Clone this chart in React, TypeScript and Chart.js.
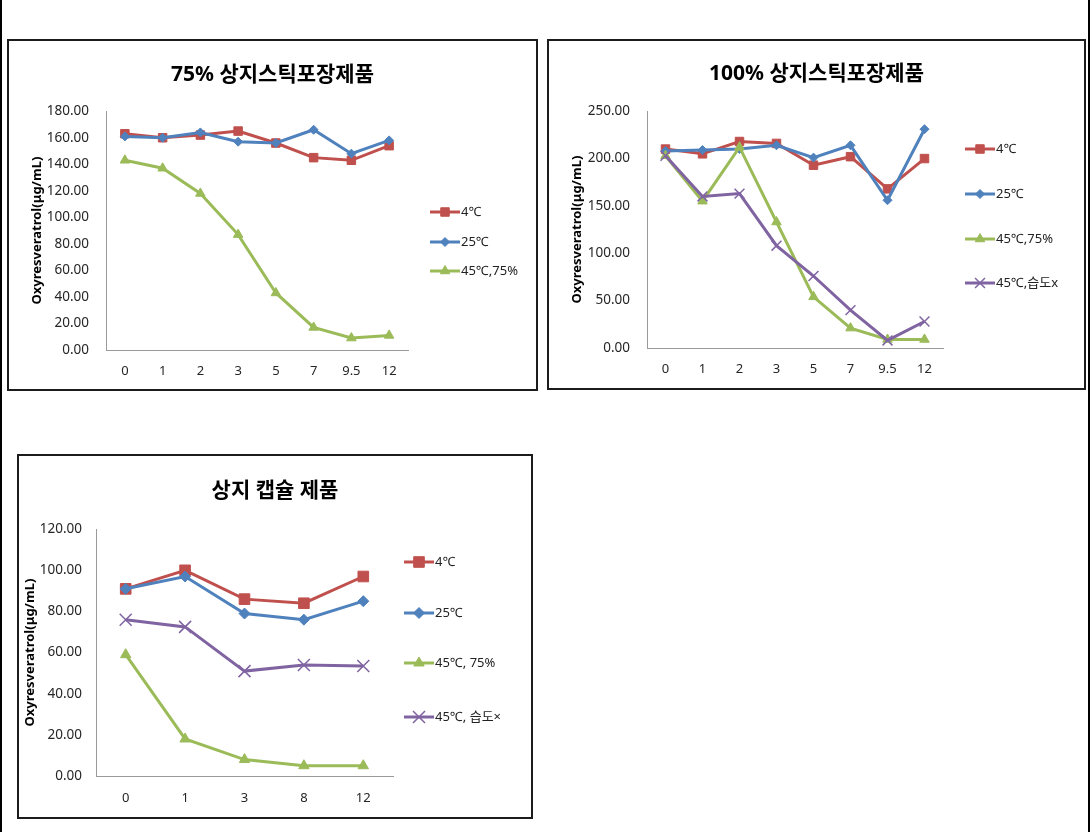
import React, { useEffect, useRef } from 'react';
import { Chart, registerables } from 'chart.js';

Chart.register(...registerables);

const FONT = "'Noto Sans', 'Noto Sans CJK KR', sans-serif";

// ---------- data ----------
const yAxisTitle = 'Oxyresveratrol(μg/mL)';

const stickCategories = ['0', '1', '2', '3', '5', '7', '9.5', '12'];

const stick75Title = '75% 상지스틱포장제품';
const stick75Labels = ['4℃', '25℃', '45℃,75%'];
const stick75Cold = [163, 160, 162, 165, 156, 145, 143, 154];
const stick75Room = [161, 160, 164, 157, 156, 166, 148, 158];
const stick75Hot = [143, 137, 118, 87, 43, 17, 9, 11];
const stick75YMax = 180;
const stick75YStep = 20;

const stick100Title = '100% 상지스틱포장제품';
const stick100Labels = ['4℃', '25℃', '45℃,75%', '45℃,습도x'];
const stick100Cold = [210, 205, 218, 216, 193, 202, 168, 200];
const stick100Room = [208, 209, 210, 214, 201, 214, 156, 231];
const stick100Hot = [203, 155, 212, 133, 54, 21, 9, 9];
const stick100Dry = [203, 160, 163, 108, 76, 40, 8, 28];
const stick100YMax = 250;
const stick100YStep = 50;

const capsuleCategories = ['0', '1', '3', '8', '12'];
const capsuleTitle = '상지 캡슐 제품';
const capsuleLabels = ['4℃', '25℃', '45℃, 75%', '45℃, 습도×'];
const capsuleCold = [91, 100, 86, 84, 97];
const capsuleRoom = [91, 97, 79, 76, 85];
const capsuleHot = [59, 18, 8, 5, 5];
const capsuleDry = [76, 72.5, 51, 54, 53.5];
const capsuleYMax = 120;
const capsuleYStep = 20;

// ---------- styles ----------
const SERIES_COLORS = ['#C0504D', '#4F81BD', '#9BBB59', '#8064A2'];
const SERIES_POINTS = ['rect', 'rectRot', 'triangle', 'crossRot'];

type Spec = {
  title: string;
  categories: string[];
  labels: string[];
  series: number[][];
  yMax: number;
  yStep: number;
  box: { left: number; top: number; width: number; height: number };
  leftWidth: number;
  rightWidth: number;
  bottomHeight: number;
  titlePad: { top: number; bottom: number };
  yTitlePad: number;
  yTickPad: number;
  xTickPad: number;
  radii: number[];
  legendOffset: number;
  legendYs: number[];
};

const specs: Spec[] = [
  {
    title: stick75Title,
    categories: stickCategories,
    labels: stick75Labels,
    series: [stick75Cold, stick75Room, stick75Hot],
    yMax: stick75YMax,
    yStep: stick75YStep,
    box: { left: 7, top: 39, width: 531, height: 352 },
    leftWidth: 97,
    rightWidth: 128,
    bottomHeight: 39,
    titlePad: { top: 21, bottom: 24 },
    yTitlePad: 20,
    yTickPad: 17,
    xTickPad: 13,
    radii: [6, 4.5, 5.5],
    legendOffset: 22,
    legendYs: [171, 201, 230],
  },
  {
    title: stick100Title,
    categories: stickCategories,
    labels: stick100Labels,
    series: [stick100Cold, stick100Room, stick100Hot, stick100Dry],
    yMax: stick100YMax,
    yStep: stick100YStep,
    box: { left: 547, top: 39, width: 539, height: 351 },
    leftWidth: 98,
    rightWidth: 141,
    bottomHeight: 40,
    titlePad: { top: 20, bottom: 25 },
    yTitlePad: 20,
    yTickPad: 17,
    xTickPad: 13,
    radii: [6, 4.5, 5.5, 7],
    legendOffset: 22,
    legendYs: [108, 153, 198, 242],
  },
  {
    title: capsuleTitle,
    categories: capsuleCategories,
    labels: capsuleLabels,
    series: [capsuleCold, capsuleRoom, capsuleHot, capsuleDry],
    yMax: capsuleYMax,
    yStep: capsuleYStep,
    box: { left: 17, top: 454, width: 516, height: 365 },
    leftWidth: 77,
    rightWidth: 138,
    bottomHeight: 41,
    titlePad: { top: 22, bottom: 26 },
    yTitlePad: 3,
    yTickPad: 14,
    xTickPad: 14,
    radii: [7.5, 5.5, 6, 8.5],
    legendOffset: 11,
    legendYs: [106, 157, 207, 261],
  },
];

function drawMarker(ctx: CanvasRenderingContext2D, style: string, x: number, y: number, r: number, color: string) {
  ctx.save();
  ctx.fillStyle = color;
  ctx.strokeStyle = color;
  ctx.lineWidth = style === 'crossRot' ? 1.5 : 1;
  ctx.beginPath();
  if (style === 'rect') {
    const s = Math.SQRT1_2 * r;
    ctx.rect(x - s, y - s, 2 * s, 2 * s);
    ctx.fill();
    ctx.stroke();
  } else if (style === 'rectRot') {
    ctx.moveTo(x - r, y);
    ctx.lineTo(x, y - r);
    ctx.lineTo(x + r, y);
    ctx.lineTo(x, y + r);
    ctx.closePath();
    ctx.fill();
    ctx.stroke();
  } else if (style === 'triangle') {
    ctx.moveTo(x, y - r);
    ctx.lineTo(x + r * 0.866, y + r * 0.5);
    ctx.lineTo(x - r * 0.866, y + r * 0.5);
    ctx.closePath();
    ctx.fill();
    ctx.stroke();
  } else {
    const d = r * Math.SQRT1_2;
    ctx.moveTo(x - d, y - d);
    ctx.lineTo(x + d, y + d);
    ctx.moveTo(x + d, y - d);
    ctx.lineTo(x - d, y + d);
    ctx.stroke();
  }
  ctx.restore();
}

const lineLegendPlugin = {
  id: 'lineLegend',
  afterDraw(chart: any, _args: any, opts: any) {
    const ctx: CanvasRenderingContext2D = chart.ctx;
    const area = chart.chartArea;
    const x0 = area.right + opts.offset;
    chart.data.datasets.forEach((ds: any, i: number) => {
      const y = opts.ys[i];
      ctx.save();
      ctx.strokeStyle = ds.borderColor;
      ctx.lineWidth = ds.borderWidth;
      ctx.beginPath();
      ctx.moveTo(x0, y);
      ctx.lineTo(x0 + 30, y);
      ctx.stroke();
      ctx.restore();
      drawMarker(ctx, ds.pointStyle, x0 + 15, y, ds.pointRadius, ds.borderColor);
      ctx.save();
      ctx.fillStyle = '#222';
      ctx.font = `13px ${FONT}`;
      ctx.textAlign = 'left';
      ctx.textBaseline = 'middle';
      ctx.fillText(ds.label, x0 + 31, y);
      ctx.restore();
    });
  },
};

function makeConfig(spec: Spec): any {
  const n = spec.series.length;
  return {
    type: 'line',
    data: {
      labels: spec.categories,
      datasets: spec.series.map((values, i) => ({
        label: spec.labels[i],
        data: values,
        borderColor: SERIES_COLORS[i],
        backgroundColor: SERIES_COLORS[i],
        borderWidth: 3,
        pointStyle: SERIES_POINTS[i],
        pointRadius: spec.radii[i],
        pointBackgroundColor: SERIES_COLORS[i],
        pointBorderColor: SERIES_COLORS[i],
        pointBorderWidth: SERIES_POINTS[i] === 'crossRot' ? 1.5 : 1,
        tension: 0,
        fill: false,
        order: n - i,
        yAxisID: 'y',
      })),
    },
    options: {
      responsive: false,
      animation: false,
      devicePixelRatio: 1,
      layout: { padding: 0 },
      plugins: {
        legend: { display: false },
        tooltip: { enabled: false },
        title: {
          display: true,
          text: spec.title,
          color: '#000',
          font: { family: FONT, size: 21, weight: 'bold' },
          padding: spec.titlePad,
        },
        lineLegend: { offset: spec.legendOffset, ys: spec.legendYs },
      },
      scales: {
        x: {
          type: 'category',
          offset: true,
          grid: { display: false, drawTicks: false },
          border: { display: true, color: '#9a9a9a', width: 1 },
          ticks: {
            font: { family: FONT, size: 13 },
            color: '#262626',
            padding: spec.xTickPad,
            autoSkip: false,
            maxRotation: 0,
          },
          afterFit: (s: any) => {
            s.height = spec.bottomHeight;
          },
        },
        y: {
          type: 'linear',
          position: 'left',
          min: 0,
          max: spec.yMax,
          grid: { display: false, drawTicks: false },
          border: { display: true, color: '#9a9a9a', width: 1 },
          ticks: {
            stepSize: spec.yStep,
            font: { family: FONT, size: 13.5 },
            color: '#262626',
            padding: spec.yTickPad,
            callback: (v: any) => Number(v).toFixed(2),
          },
          title: {
            display: true,
            text: yAxisTitle,
            color: '#000',
            font: { family: FONT, size: 13, weight: 'bold' },
            padding: { top: spec.yTitlePad, bottom: 0 },
          },
          afterFit: (s: any) => {
            s.width = spec.leftWidth;
          },
        },
        pad: {
          type: 'linear',
          position: 'right',
          display: true,
          grid: { display: false, drawTicks: false },
          border: { display: false },
          ticks: { display: false },
          afterFit: (s: any) => {
            s.width = spec.rightWidth;
          },
        },
      },
    },
    plugins: [lineLegendPlugin],
  };
}

function ChartBox({ spec }: { spec: Spec }) {
  const ref = useRef<HTMLCanvasElement>(null);
  const w = spec.box.width - 4;
  const h = spec.box.height - 4;
  useEffect(() => {
    if (!ref.current) return;
    const chart = new Chart(ref.current, makeConfig(spec));
    return () => chart.destroy();
  }, [spec]);
  return (
    <div
      style={{
        position: 'absolute',
        left: spec.box.left,
        top: spec.box.top,
        width: spec.box.width,
        height: spec.box.height,
        border: '2px solid #1c1c1c',
        boxSizing: 'border-box',
        background: '#fff',
      }}
    >
      <canvas ref={ref} width={w} height={h} style={{ display: 'block', width: w, height: h }} />
    </div>
  );
}

export default function App() {
  return (
    <div
      style={{
        position: 'absolute',
        left: 0,
        top: 0,
        width: 1092,
        height: 832,
        background: '#fff',
        overflow: 'hidden',
      }}
    >
      <div style={{ position: 'absolute', left: 0, top: 0, width: 2, height: 832, background: '#000' }} />
      <div style={{ position: 'absolute', left: 1088, top: 0, width: 2, height: 832, background: '#000' }} />
      {specs.map((s, i) => (
        <ChartBox key={i} spec={s} />
      ))}
    </div>
  );
}
